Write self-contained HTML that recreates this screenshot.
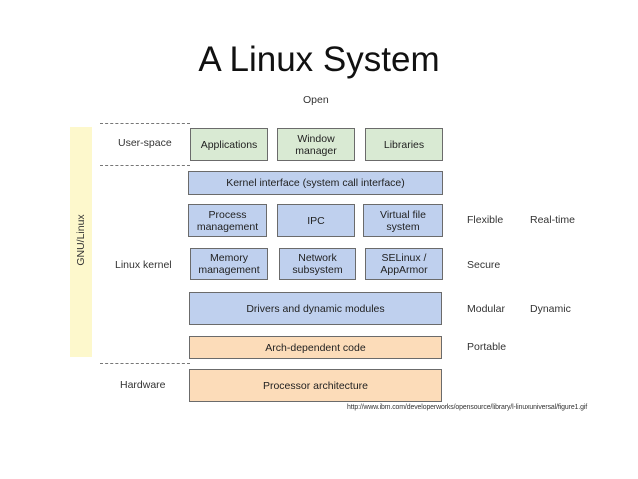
<!DOCTYPE html>
<html><head><style>
body{margin:0;width:638px;height:479px;background:#fff;position:relative;font-family:"Liberation Sans",sans-serif;overflow:hidden}
.b{position:absolute;box-sizing:border-box;border:1.5px solid #6b6b6b;display:flex;align-items:center;justify-content:center;text-align:center;font-size:10.5px;line-height:12px;color:#222}
.g{background:#d9ead3}.u{background:#bfd0ee}.o{background:#fcdcb9}
.t{position:absolute;font-size:10.5px;color:#333;white-space:nowrap}
.d{position:absolute;height:0;border-top:1.5px dashed #777;left:100px;width:90px}
</style></head><body>
<div class="t" style="left:0;width:638px;text-align:center;top:40px;font-size:35px;color:#111">A Linux System</div>
<div class="t" style="left:303px;top:94px">Open</div>
<div style="position:absolute;left:70px;top:127px;width:22px;height:230px;background:#fdf8cc"></div>
<div class="t" style="left:81px;top:240px;transform:translate(-50%,-50%) rotate(-90deg)">GNU/Linux</div>
<div class="d" style="top:123px"></div>
<div class="d" style="top:165px"></div>
<div class="d" style="top:363px"></div>
<div class="t" style="left:118px;top:137px">User-space</div>
<div class="t" style="left:115px;top:259px">Linux kernel</div>
<div class="t" style="left:120px;top:379px">Hardware</div>
<div class="b g" style="left:190px;top:128px;width:78px;height:33px">Applications</div>
<div class="b g" style="left:277px;top:128px;width:78px;height:33px">Window<br>manager</div>
<div class="b g" style="left:365px;top:128px;width:78px;height:33px">Libraries</div>
<div class="b u" style="left:188px;top:171px;width:255px;height:24px">Kernel interface (system call interface)</div>
<div class="b u" style="left:188px;top:204px;width:79px;height:33px">Process<br>management</div>
<div class="b u" style="left:277px;top:204px;width:78px;height:33px">IPC</div>
<div class="b u" style="left:363px;top:204px;width:80px;height:33px">Virtual file<br>system</div>
<div class="b u" style="left:190px;top:248px;width:78px;height:32px">Memory<br>management</div>
<div class="b u" style="left:279px;top:248px;width:77px;height:32px">Network<br>subsystem</div>
<div class="b u" style="left:365px;top:248px;width:78px;height:32px">SELinux /<br>AppArmor</div>
<div class="b u" style="left:189px;top:292px;width:253px;height:33px">Drivers and dynamic modules</div>
<div class="b o" style="left:189px;top:336px;width:253px;height:23px">Arch-dependent code</div>
<div class="b o" style="left:189px;top:369px;width:253px;height:33px">Processor architecture</div>
<div class="t" style="left:467px;top:214px">Flexible</div>
<div class="t" style="left:530px;top:214px">Real-time</div>
<div class="t" style="left:467px;top:259px">Secure</div>
<div class="t" style="left:467px;top:303px">Modular</div>
<div class="t" style="left:530px;top:303px">Dynamic</div>
<div class="t" style="left:467px;top:341px">Portable</div>
<div class="t" style="left:347px;top:404px;font-size:6.9px;letter-spacing:-0.1px">http://www.ibm.com/developerworks/opensource/library/l-linuxuniversal/figure1.gif</div>
</body></html>
